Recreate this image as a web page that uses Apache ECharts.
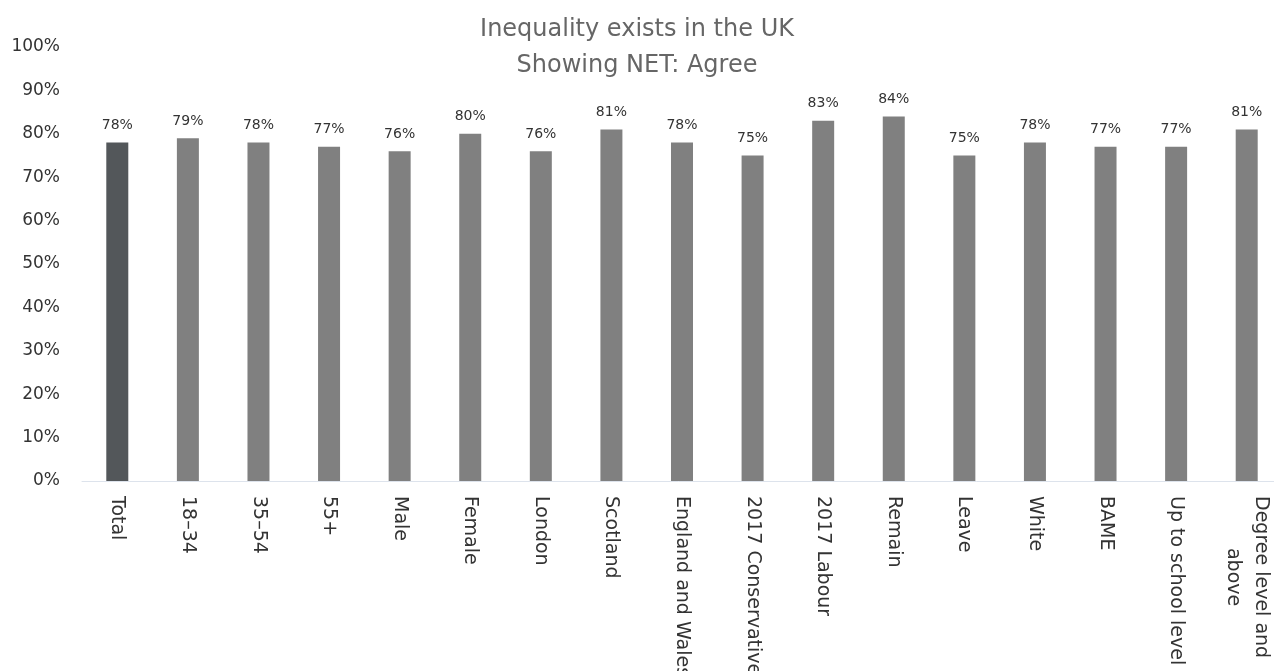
<!DOCTYPE html>
<html>
<head>
<meta charset="utf-8">
<title>Inequality exists in the UK</title>
<script src="https://cdn.jsdelivr.net/npm/echarts@6/dist/echarts.min.js"></script>
<style>
  html, body { margin: 0; padding: 0; background: #ffffff; }
  #chart { width: 1274px; height: 671px; }
</style>
</head>
<body>
<div id="chart"></div>
<script>
// Survey groups and share agreeing that inequality exists in the UK (NET: Agree, %)
const categories = [
  'Total', '18–34', '35–54', '55+', 'Male', 'Female', 'London', 'Scotland',
  'England and Wales', '2017 Conservative', '2017 Labour', 'Remain', 'Leave',
  'White', 'BAME', 'Up to school level', 'Degree level and above'
];
const agreeValues = [78, 79, 78, 77, 76, 80, 76, 81, 78, 75, 83, 84, 75, 78, 77, 77, 81];
const yTicks = [0, 10, 20, 30, 40, 50, 60, 70, 80, 90, 100];

const titleText = 'Inequality exists in the UK';
const subtitleText = 'Showing NET: Agree';

const FONT = '"DejaVu Sans", "Open Sans", sans-serif';

// Break long category names onto two centred lines
function wrapLabel(name) {
  const limit = 17;
  let lines = [name];
  if (name.length > 20) {
    const cut = name.lastIndexOf(' ', limit);
    lines = [name.slice(0, cut), name.slice(cut + 1)];
  }
  return lines.map(l => '{c|' + l + '}').join('\n');
}

const chart = echarts.init(document.getElementById('chart'), null, { renderer: 'canvas' });

chart.setOption({
  animation: false,
  backgroundColor: '#ffffff',
  title: [
    {
      text: titleText,
      left: 'center',
      top: 10,
      textStyle: { fontFamily: FONT, fontSize: 24, fontWeight: 'normal', color: '#666666', lineHeight: 30 }
    },
    {
      text: subtitleText,
      left: 'center',
      top: 46,
      textStyle: { fontFamily: FONT, fontSize: 24, fontWeight: 'normal', color: '#666666', lineHeight: 30 }
    }
  ],
  grid: {
    left: 82, right: -8, top: 47, bottom: 190,
    containLabel: false,
    outerBoundsMode: 'none'
  },
  xAxis: {
    type: 'category',
    data: categories,
    axisLine: { show: true, lineStyle: { color: '#dde3ec', width: 1 } },
    axisTick: { show: false },
    axisLabel: {
      interval: 0,
      rotate: -90,
      margin: 15,
      color: '#333333',
      fontFamily: FONT,
      fontSize: 19,
      formatter: wrapLabel,
      rich: {
        c: { align: 'center', fontFamily: FONT, fontSize: 19, color: '#333333', lineHeight: 28 }
      }
    }
  },
  yAxis: {
    type: 'value',
    min: yTicks[0],
    max: yTicks[yTicks.length - 1],
    interval: yTicks[1] - yTicks[0],
    splitLine: { show: false },
    axisLine: { show: false },
    axisTick: { show: false },
    axisLabel: {
      margin: 22,
      color: '#333333',
      fontFamily: FONT,
      fontSize: 17,
      formatter: '{value}%'
    }
  },
  series: [
    {
      type: 'bar',
      data: agreeValues,
      barWidth: 22,
      itemStyle: {
        color: params => (params.dataIndex === 0 ? '#53575a' : '#808080')
      },
      label: {
        show: true,
        position: 'top',
        distance: 10,
        color: '#333333',
        fontFamily: FONT,
        fontSize: 14,
        formatter: '{c}%'
      }
    }
  ]
});
</script>
</body>
</html>
